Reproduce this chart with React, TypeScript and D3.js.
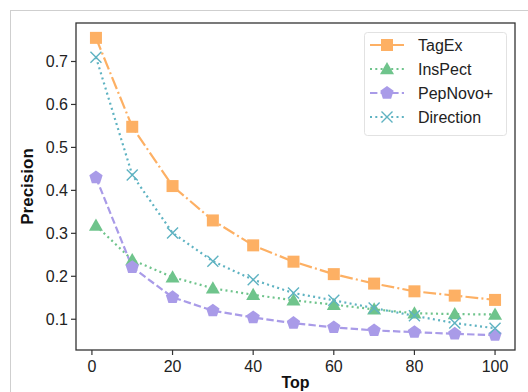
import React from "react";
import * as d3 from "d3";

const xs = [1, 10, 20, 30, 40, 50, 60, 70, 80, 90, 100];
const tagEx = [0.755, 0.548, 0.41, 0.33, 0.272, 0.234, 0.205, 0.183, 0.165, 0.155, 0.145];
const insPect = [0.318, 0.238, 0.198, 0.172, 0.157, 0.144, 0.134, 0.123, 0.114, 0.112, 0.111];
const pepNovo = [0.43, 0.221, 0.151, 0.12, 0.104, 0.091, 0.081, 0.074, 0.07, 0.066, 0.063];
const direction = [0.71, 0.436, 0.301, 0.235, 0.192, 0.161, 0.144, 0.126, 0.108, 0.091, 0.079];
const xTicks = [0, 20, 40, 60, 80, 100];
const yTicks = [0.1, 0.2, 0.3, 0.4, 0.5, 0.6, 0.7];
const seriesNames = ["TagEx", "InsPect", "PepNovo+", "Direction"];

const W = 528, H = 392;
const L = 76, R = 515, T = 23, B = 350;
const FONT = "'Liberation Sans', Arial, sans-serif";

type Series = { name: string; values: number[]; color: string; dash: string; marker: string };

const series: Series[] = [
  { name: seriesNames[0], values: tagEx, color: "#FDB064", dash: "12.8,3.2,2,3.2", marker: "square" },
  { name: seriesNames[1], values: insPect, color: "#6FC48C", dash: "2,3.3", marker: "triangle" },
  { name: seriesNames[2], values: pepNovo, color: "#A99BE8", dash: "7.4,3.2", marker: "pentagon" },
  { name: seriesNames[3], values: direction, color: "#5FB3C2", dash: "2,3.3", marker: "x" },
];

function Marker({ kind, x, y, color }: { kind: string; x: number; y: number; color: string }) {
  if (kind === "square") return <rect x={x - 6} y={y - 6} width={12} height={12} fill={color} />;
  if (kind === "triangle") {
    const s = 7;
    return <path d={`M${x},${y - s}L${x + s},${y + s * 0.75}L${x - s},${y + s * 0.75}Z`} fill={color} />;
  }
  if (kind === "pentagon") {
    const r = 7;
    const pts = d3.range(5).map((i) => {
      const a = -Math.PI / 2 + (i * 2 * Math.PI) / 5;
      return `${x + r * Math.cos(a)},${y + r * Math.sin(a)}`;
    });
    return <polygon points={pts.join(" ")} fill={color} />;
  }
  const s = 5.5;
  return (
    <path d={`M${x - s},${y - s}L${x + s},${y + s}M${x - s},${y + s}L${x + s},${y - s}`} stroke={color} strokeWidth={1.4} fill="none" />
  );
}

export default function App() {
  const x = d3.scaleLinear().domain([1 - 99 * 0.05, 100 + 99 * 0.05]).range([L, R]);
  const allY = [...tagEx, ...insPect, ...pepNovo, ...direction];
  const yMin = d3.min(allY)!, yMax = d3.max(allY)!;
  const pad = (yMax - yMin) * 0.05;
  const y = d3.scaleLinear().domain([yMin - pad, yMax + pad]).range([B, T]);
  const line = d3.line<number>().x((_, i) => x(xs[i])).y((v) => y(v));

  const legX = 364, legY = 32, legW = 142, legH = 103;
  return (
    <svg width={W} height={H} style={{ position: "absolute", left: 0, top: 0 }} fontFamily={FONT}>
      <rect x={0} y={0} width={W} height={H} fill="#fff" />
      <rect x={10.5} y={10.5} width={W + 20} height={H + 20} fill="none" stroke="#cfcfcf" strokeWidth={1} />
      {series.map((s) => (
        <path key={s.name} d={line(s.values)!} fill="none" stroke={s.color} strokeWidth={2.2} strokeDasharray={s.dash} />
      ))}
      {series.map((s) =>
        s.values.map((v, i) => <Marker key={s.name + i} kind={s.marker} x={x(xs[i])} y={y(v)} color={s.color} />)
      )}
      <rect x={L} y={T} width={R - L} height={B - T} fill="none" stroke="#333" strokeWidth={1.3} />
      {xTicks.map((t) => (
        <g key={t}>
          <line x1={x(t)} x2={x(t)} y1={B} y2={B + 5} stroke="#333" strokeWidth={1.2} />
          <text x={x(t)} y={372} fontSize={16} textAnchor="middle" fill="#222">{t}</text>
        </g>
      ))}
      {yTicks.map((t) => (
        <g key={t}>
          <line x1={L - 5} x2={L} y1={y(t)} y2={y(t)} stroke="#333" strokeWidth={1.2} />
          <text x={L - 8} y={y(t) + 5.5} fontSize={16} textAnchor="end" fill="#222">{t.toFixed(1)}</text>
        </g>
      ))}
      <text x={(L + R) / 2} y={387.5} fontSize={16} fontWeight="bold" textAnchor="middle" fill="#111">Top</text>
      <text transform={`translate(33,${(T + B) / 2}) rotate(-90)`} fontSize={17} fontWeight="bold" textAnchor="middle" fill="#111">Precision</text>
      <rect x={legX + 0.5} y={legY + 0.5} width={legW} height={legH} rx={3} fill="#fff" fillOpacity={0.85} stroke="#e2e2e2" />
      {series.map((s, i) => {
        const cy = 45 + i * 24;
        return (
          <g key={s.name}>
            <line x1={370} x2={404} y1={cy} y2={cy} stroke={s.color} strokeWidth={2.2} strokeDasharray={s.dash} />
            <Marker kind={s.marker} x={387} y={cy} color={s.color} />
            <text x={418} y={cy + 5.5} fontSize={16} fill="#222">{s.name}</text>
          </g>
        );
      })}
    </svg>
  );
}
